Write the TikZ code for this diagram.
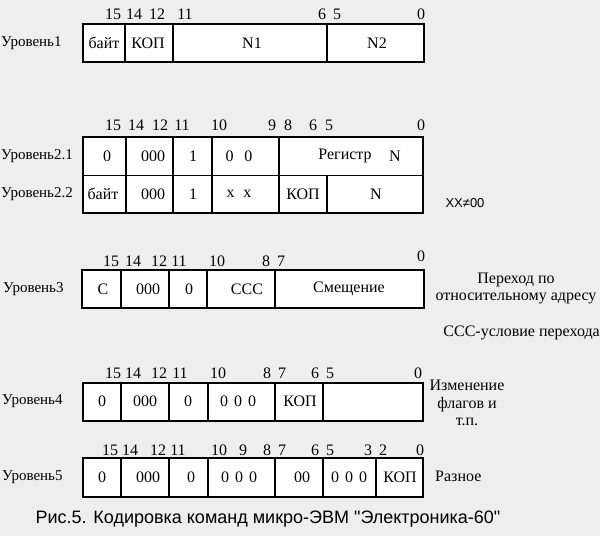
\documentclass[tikz,border=0pt]{standalone}
\usepackage{fontspec}
\setmainfont{Liberation Serif}
\newfontfamily\capfont{Liberation Sans}[Ligatures=TeXOff]
\usetikzlibrary{positioning}
\definecolor{bg}{RGB}{238,238,238}
\tikzstyle{cell}=[draw=black,fill=white,line width=1.2pt]
\tikzstyle{divider}=[draw=black,line width=1.2pt]
\tikzstyle{bit}=[font=\fontsize{16}{16}\selectfont,inner sep=0pt]
\tikzstyle{txt}=[font=\fontsize{16}{16}\selectfont,inner sep=0pt]
\tikzstyle{lvl}=[font=\fontsize{15}{15}\selectfont,anchor=west,inner sep=0pt]
\tikzstyle{note}=[font=\fontsize{16}{17.5}\selectfont,align=center,inner sep=0pt]
\tikzstyle{captext}=[font=\capfont\fontsize{18}{18}\selectfont,inner sep=0pt]

\begin{document}
\begin{tikzpicture}[x=1pt,y=-1pt]
\fill[bg] (0,0) rectangle (600,536);
\useasboundingbox (0,0) rectangle (600,536);

% Level 1
\node[lvl] (lvl1) at (1,43) {Уровень1};
\draw[cell] (83,24) rectangle (424,62);
\foreach \x in {125,173,327} \draw[divider] (\x,24) -- (\x,62);
\foreach \x/\b in {113/15,134/14,157/12,185/11,322/6,337/5,421/0}
  \node[bit] (b1-\b) at (\x,14) {\b};
\node[txt] (f1-byte) at (104,43) {байт};
\node[txt] (f1-kop) at (148,43) {КОП};
\node[txt] (f1-n1) at (252,43) {N1};
\node[txt] (f1-n2) at (377,43) {N2};

% Level 2
\node[lvl] (lvl21) at (1,156) {Уровень2.1};
\node[lvl] (lvl22) at (1,194) {Уровень2.2};
\draw[cell] (83,137) rectangle (423,213);
\draw[divider] (83,175.5) -- (423,175.5);
\foreach \x in {126,173,212,279} \draw[divider] (\x,137) -- (\x,213);
\draw[divider] (327,175.5) -- (327,213);
\foreach \x/\b in {113/15,136/14,160/12,182/11,219/10,272/9,288/8,313/6,329/5,421/0}
  \node[bit] (b2-\b) at (\x,125) {\b};
\node[txt] (f21-zero) at (107,156) {0};
\node[txt] (f21-ooo) at (153,156) {000};
\node[txt] (f21-one) at (193,156) {1};
\node[txt] (f21-oo) at (239,156) {0\hspace{11pt}0};
\node[txt] (f21-reg) at (345,156) {Регистр};
\node[txt] (f21-n) at (395,156) {N};
\node[txt] (f22-byte) at (103,194) {байт};
\node[txt] (f22-ooo) at (153,194) {000};
\node[txt] (f22-one) at (193,194) {1};
\node[txt] (f22-xx) at (239,194) {x\hspace{9pt}x};
\node[txt] (f22-kop) at (303,194) {КОП};
\node[txt] (f22-n) at (376,194) {N};
\node[captext,font=\capfont\fontsize{13}{13}\selectfont] (neq) at (465,203) {XX≠00};

% Level 3
\node[lvl] (lvl3) at (3,289) {Уровень3};
\draw[cell] (82,270) rectangle (424,308);
\foreach \x in {121,169,207,275} \draw[divider] (\x,270) -- (\x,308);
\foreach \x/\b in {111/15,133/14,159/12,179/11,217/10,266/8,281/7}
  \node[bit] (b3-\b) at (\x,261) {\b};
\node[bit] (b3-0) at (421,256) {0};
\node[txt] (f3-c) at (103,289) {С};
\node[txt] (f3-ooo) at (148,289) {000};
\node[txt] (f3-zero) at (189,289) {0};
\node[txt] (f3-ccc) at (247,289) {ССС};
\node[txt] (f3-shift) at (349,289) {Смещение};
\node[note] (jump) at (516,288.5) {Переход по\\относительному адресу};
\node[note,anchor=east] (cond) at (600,333) {ССС-условие перехода};

% Level 4
\node[lvl] (lvl4) at (2,401) {Уровень4};
\draw[cell] (83,383) rectangle (423,421);
\foreach \x in {121,169,208,275,323} \draw[divider] (\x,383) -- (\x,421);
\foreach \x/\b in {113/15,133/14,159/12,180/11,218/10,267/8,282/7,315/6,330/5,418/0}
  \node[bit] (b4-\b) at (\x,373) {\b};
\node[txt] (f4-zero) at (102,401) {0};
\node[txt] (f4-ooo) at (145,401) {000};
\node[txt] (f4-zero2) at (188,401) {0};
\node[txt] (f4-ooo2) at (238,401) {0\hspace{6pt}0\hspace{6pt}0};
\node[txt] (f4-kop) at (300,401) {КОП};
\node[note] (flags) at (467,403) {Изменение\\флагов и\\т.п.};

% Level 5
\node[lvl] (lvl5) at (2,477) {Уровень5};
\draw[cell] (83,458) rectangle (423,497);
\foreach \x in {121,169,208,275,323,376} \draw[divider] (\x,458) -- (\x,497);
\foreach \x/\b in {110/15,130/14,158/12,178/11,219/10,243/9,267/8,282/7,315/6,330/5,368/3,383/2,420/0}
  \node[bit] (b5-\b) at (\x,450) {\b};
\node[txt] (f5-zero) at (102,477) {0};
\node[txt] (f5-ooo) at (148,477) {000};
\node[txt] (f5-zero2) at (191,477) {0};
\node[txt] (f5-ooo2) at (239,477) {0\hspace{6pt}0\hspace{6pt}0};
\node[txt] (f5-oo) at (302,477) {00};
\node[txt] (f5-ooo3) at (349,477) {0\hspace{6pt}0\hspace{6pt}0};
\node[txt] (f5-kop) at (400,477) {КОП};
\node[note,anchor=west] (misc) at (435,476) {Разное};

\node[captext] (caption) at (268,519) {Рис.5. Кодировка команд микро-ЭВМ "Электроника-60"};
\end{tikzpicture}
\end{document}
